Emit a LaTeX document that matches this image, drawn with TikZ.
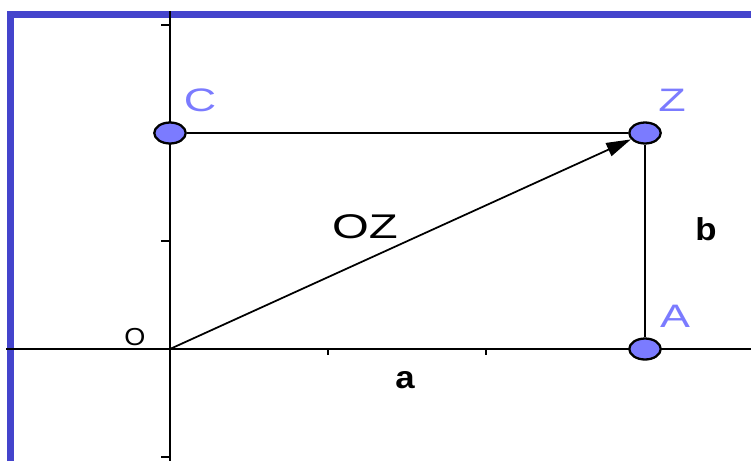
\documentclass[tikz,border=0pt]{standalone}
\usepackage{fontspec}
\setmainfont{Liberation Sans}
\usetikzlibrary{arrows.meta,shapes.geometric}
\definecolor{rahmen}{RGB}{68,68,204}
\definecolor{punkt}{RGB}{123,123,255}
\newcommand{\breit}[1]{\scalebox{1.38}[1]{#1}}

\begin{document}
\begin{tikzpicture}[x=0.02cm, y=-0.02cm, >=Stealth, line width=1pt,
  pt/.style={ellipse, draw=black, fill=punkt, line width=1.3pt,
    minimum width=0.63cm, minimum height=0.42cm, inner sep=0pt},
  ptname/.style={text=punkt, font=\fontsize{18.5}{18.5}\selectfont},
  lbl/.style={font=\fontsize{19.5}{19.5}\selectfont}]
  \useasboundingbox (0,0) rectangle (751,461);

  % Rahmen
  \draw[rahmen, line width=4pt] (10.5,461) -- (10.5,14.5) -- (751,14.5);

  % Achsen
  \coordinate (O) at (170,349);
  \draw[line width=1.2pt] (170,11) -- (170,461);
  \draw[line width=1.2pt] (6,349) -- (751,349);
  \foreach \y in {25,241,457}
    \draw[line width=1.2pt] (161,\y) -- (170,\y);
  \foreach \x in {328,486}
    \draw[line width=1.2pt] (\x,349) -- (\x,355);
  \node[font=\fontsize{14}{14}\selectfont] (o) at (135,337) {\scalebox{1.1}[1]{O}};

  % Punkte
  \node[pt] (C) at (170,133) {};
  \node[pt] (Z) at (645,133) {};
  \node[pt] (A) at (645,349) {};
  \node[ptname] (lc) at (200,100) {\breit{C}};
  \node[ptname] (lz) at (672,100) {\breit{Z}};
  \node[ptname] (la) at (675,316) {\breit{A}};

  % Rechteck und Vektor
  \draw (C) -- (Z);
  \draw (Z) -- (A);
  \draw[-{Triangle[length=14pt,width=8pt]}] (O) -- (Z);

  % Beschriftungen
  \node[lbl] (oz) at (365,227) {\breit{OZ}};
  \node[font=\bfseries\fontsize{18}{18}\selectfont] (a) at (405,380) {\scalebox{1.1}[1]{a}};
  \node[font=\bfseries\fontsize{18}{18}\selectfont] (b) at (706,229) {\scalebox{1.1}[1]{b}};
\end{tikzpicture}
\end{document}
